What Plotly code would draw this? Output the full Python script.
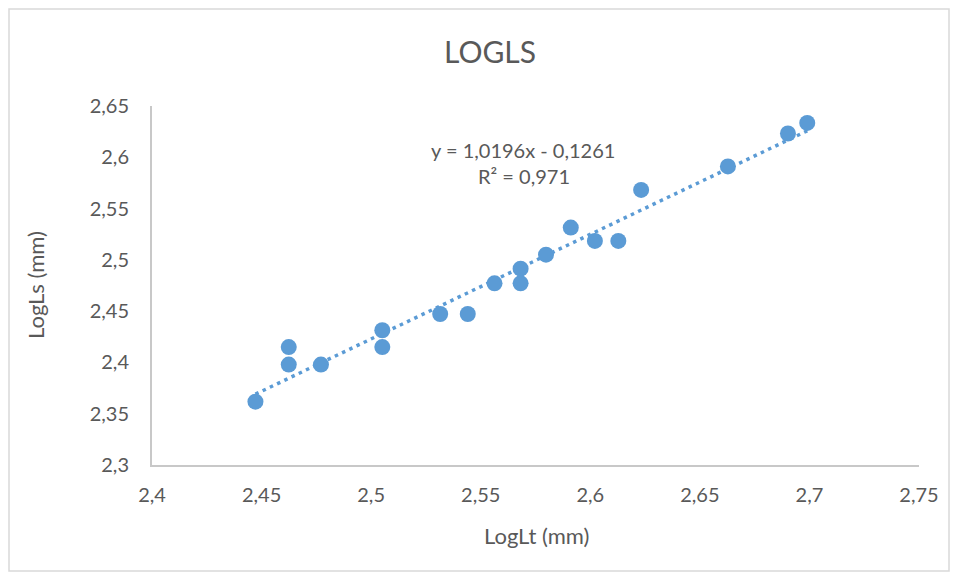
import plotly.graph_objects as go

# ---- data ----
log_lt = [2.4472, 2.4624, 2.4624, 2.4771, 2.5051, 2.5051, 2.5315, 2.5441, 2.5563,
          2.5682, 2.5682, 2.5798, 2.5911, 2.6021, 2.6128, 2.6232, 2.6628, 2.6902, 2.6990]
log_ls = [2.3617, 2.4150, 2.3979, 2.3979, 2.4314, 2.4150, 2.4472, 2.4472, 2.4771,
          2.4914, 2.4771, 2.5051, 2.5315, 2.5185, 2.5185, 2.5682, 2.5911, 2.6232, 2.6335]
slope = 1.0196
intercept = -0.1261
eq_text = "y = 1,0196x - 0,1261"
r2_text = "R² = 0,971"

x_ticks = [2.4, 2.45, 2.5, 2.55, 2.6, 2.65, 2.7, 2.75]
x_tick_labels = ["2,4", "2,45", "2,5", "2,55", "2,6", "2,65", "2,7", "2,75"]
y_ticks = [2.3, 2.35, 2.4, 2.45, 2.5, 2.55, 2.6, 2.65]
y_tick_labels = ["2,3", "2,35", "2,4", "2,45", "2,5", "2,55", "2,6", "2,65"]

title_text = "LOGLS"
x_title = "LogLt (mm)"
y_title = "LogLs (mm)"

# ---- styling ----
blue = "#5B9BD5"
txt = "#595959"
font_family = "Lato, 'Open Sans', sans-serif"

OFF = 8  # page body margin
W, H = 958 - OFF, 579 - OFF
# plot area in page pixels: x 152..919, y 106..465
L = 152 - OFF
T = 106 - OFF
R = W - (919 - OFF)
B = H - (465 - OFF)

trend_x = [min(log_lt), max(log_lt)]
trend_y = [slope * v + intercept for v in trend_x]

fig = go.Figure()
fig.add_trace(go.Scatter(
    x=trend_x, y=trend_y, mode="lines",
    line=dict(color=blue, width=3.5, dash="3.5px,4.5px"),
    hoverinfo="skip", showlegend=False))
fig.add_trace(go.Scatter(
    x=log_lt, y=log_ls, mode="markers",
    marker=dict(color=blue, size=16, line=dict(width=0)),
    showlegend=False))

pw = W - L - R
ph = H - T - B

def px_to_paper_x(px):
    return (px - OFF - L) / pw

def py_to_paper_y(py):
    return (H - B - (py - OFF)) / ph

fig.update_layout(
    width=W, height=H,
    margin=dict(l=L, r=R, t=T, b=B),
    paper_bgcolor="white", plot_bgcolor="white",
    font=dict(family=font_family, color=txt, size=20),
    title=dict(text=title_text, x=(490 - OFF) / W, xanchor="center",
               y=1 - (52 - OFF) / H, yanchor="middle", yref="container",
               font=dict(size=30, color=txt, family=font_family)),
    xaxis=dict(range=[2.4, 2.75], tickvals=x_ticks, ticktext=x_tick_labels,
               showgrid=False, zeroline=False, showline=True,
               linecolor="#C8C8C8", linewidth=2, ticks="",
               ticklabelstandoff=11, tickfont=dict(size=20, color=txt)),
    yaxis=dict(range=[2.3, 2.65], tickvals=y_ticks, ticktext=y_tick_labels,
               showgrid=False, zeroline=False, showline=True,
               linecolor="#C8C8C8", linewidth=2, ticks="",
               ticklabelstandoff=17, tickfont=dict(size=20, color=txt)),
    shapes=[dict(type="rect", xref="paper", yref="paper",
                 x0=px_to_paper_x(9), x1=px_to_paper_x(949),
                 y0=py_to_paper_y(571), y1=py_to_paper_y(9),
                 line=dict(color="#D9D9D9", width=1.5), fillcolor="rgba(0,0,0,0)",
                 layer="below")],
    annotations=[
        dict(text=eq_text, xref="paper", yref="paper",
             x=px_to_paper_x(523), y=py_to_paper_y(150),
             xanchor="center", yanchor="middle", showarrow=False,
             font=dict(size=20, color=txt)),
        dict(text=r2_text, xref="paper", yref="paper",
             x=px_to_paper_x(524), y=py_to_paper_y(176),
             xanchor="center", yanchor="middle", showarrow=False,
             font=dict(size=20, color=txt)),
        dict(text=x_title, xref="paper", yref="paper",
             x=px_to_paper_x(536), y=py_to_paper_y(535),
             xanchor="center", yanchor="middle", showarrow=False,
             font=dict(size=22, color=txt)),
        dict(text=y_title, xref="paper", yref="paper",
             x=px_to_paper_x(35), y=py_to_paper_y(285),
             xanchor="center", yanchor="middle", showarrow=False, textangle=-90,
             font=dict(size=22, color=txt)),
    ],
)

fig.write_html("out.html")
